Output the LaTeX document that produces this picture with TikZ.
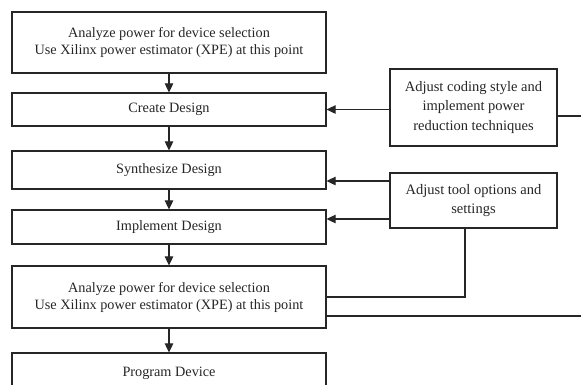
\documentclass[tikz,border=0pt]{standalone}
\usepackage{fontspec}
\setmainfont{Liberation Serif}
\usetikzlibrary{arrows.meta}
\tikzset{
  mainbox/.style={font=\fontsize{14.25}{17}\selectfont, text=black!85,
    draw=black!85, line width=1.2pt, minimum width=314pt,
    inner sep=0pt, align=center},
  sidebox/.style={font=\fontsize{14.5}{19.5}\selectfont, text=black!85,
    draw=black!85, line width=1.2pt, minimum width=167pt,
    inner sep=0pt, align=center},
  flow/.style={draw=black!85, line width=1.1pt, -{Triangle[length=9pt,width=8.5pt]}},
  link/.style={draw=black!85, line width=1.1pt}
}
\begin{document}
\begin{tikzpicture}[x=1pt,y=-1pt]
  \useasboundingbox (0,0) rectangle (581,384);
  \clip (0,0) rectangle (581,384);
  \fill[white] (0,0) rectangle (581,384);

  % main flow
  \node[mainbox, minimum height=61pt] (b1) at (169,42.5)
    {Analyze power for device selection\\Use Xilinx power estimator (XPE) at this point};
  \node[mainbox, minimum height=33pt] (b2) at (169,109.5) {Create Design};
  \node[mainbox, minimum height=38pt] (b3) at (169,170) {Synthesize Design};
  \node[mainbox, minimum height=34pt] (b4) at (169,227) {Implement Design};
  \node[mainbox, minimum height=62pt] (b5) at (169,297)
    {Analyze power for device selection\\Use Xilinx power estimator (XPE) at this point};
  \node[mainbox, minimum height=40pt] (b6) at (169,373) {Program Device};

  \draw[flow] (b1) -- (b2);
  \draw[flow] (b2) -- (b3);
  \draw[flow] (b3) -- (b4);
  \draw[flow] (b4) -- (b5);
  \draw[flow] (b5) -- (b6);

  % feedback boxes
  \node[sidebox, minimum height=77pt] (sa) at (473.5,107.5)
    {Adjust coding style and\\implement power\\reduction techniques};
  \node[sidebox, minimum height=55pt] (sb) at (473.5,200.5)
    {Adjust tool options and\\settings};

  \coordinate (outa) at (581,116);
  \coordinate (outb) at (581,316);

  \draw[flow] (sa.west |- b2.east) -- (b2.east);
  \draw[flow] (sb.west |- 0,181) -- (b3.east |- 0,181);
  \draw[flow] (sb.west |- 0,219) -- (b4.east |- 0,219);
  \draw[link] (sa.east |- outa) -- (outa);
  \draw[link] ([xshift=-8.5pt]sb.south) |- (b5.east |- 0,297);
  \draw[link] (b5.east |- outb) -- (outb);
\end{tikzpicture}
\end{document}
